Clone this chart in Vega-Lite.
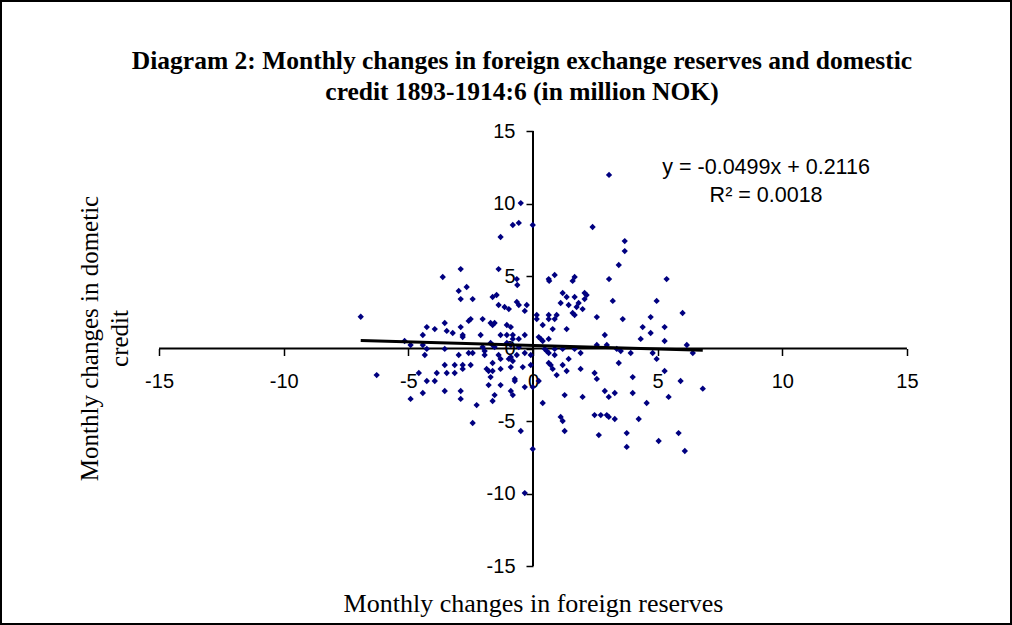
{
  "$schema": "https://vega.github.io/schema/vega-lite/v6.json",
  "width": 1010,
  "height": 623,
  "padding": {"left": 1, "top": 1, "right": 1, "bottom": 1},
  "autosize": {"type": "none"},
  "background": "white",
  "config": {"view": {"stroke": "black", "strokeWidth": 2}},
  "title": {
    "text": ["Diagram 2: Monthly changes in foreign exchange reserves and domestic", "credit 1893-1914:6 (in million NOK)"],
    "font": "Liberation Serif", "fontSize": 25.5, "fontWeight": "bold", "color": "black",
    "lineHeight": 31, "anchor": "middle", "frame": "group", "baseline": "alphabetic",
    "offset": -124, "dx": 16
  },
  "datasets": {
    "pts": [
      {"x":-6.91,"y":2.19},{"x":-0.49,"y":10.03},{"x":-0.81,"y":8.52},{"x":-0.57,"y":8.66},{"x":-0.01,"y":8.52},{"x":-1.30,"y":7.69},{"x":-3.62,"y":4.93},{"x":-2.90,"y":5.48},{"x":-1.38,"y":5.48},{"x":-0.65,"y":4.79},{"x":-0.63,"y":4.38},{"x":-2.98,"y":3.97},{"x":-2.66,"y":4.24},{"x":-2.90,"y":3.41},{"x":-2.42,"y":3.41},{"x":-1.62,"y":3.55},{"x":-1.46,"y":3.69},{"x":-4.26,"y":1.48},{"x":-3.94,"y":1.34},{"x":-4.42,"y":0.93},{"x":-5.15,"y":0.52},{"x":-4.91,"y":0.24},{"x":-4.42,"y":0.24},
      {"x":3.05,"y":11.97},{"x":2.39,"y":8.38},{"x":3.68,"y":7.41},{"x":3.68,"y":6.72},{"x":3.44,"y":5.76},{"x":3.05,"y":4.79},{"x":5.36,"y":4.79},{"x":0.63,"y":4.79},{"x":0.65,"y":4.66},{"x":0.87,"y":5.07},{"x":1.59,"y":4.66},{"x":1.67,"y":4.93},{"x":1.19,"y":3.83},{"x":1.35,"y":3.55},{"x":1.67,"y":3.55},{"x":2.07,"y":3.83},{"x":2.15,"y":3.69},{"x":2.07,"y":3.41},{"x":4.96,"y":3.28},{"x":6.00,"y":2.45},{"x":4.72,"y":2.17},{"x":4.40,"y":1.48},{"x":4.72,"y":1.07},{"x":5.28,"y":1.48},{"x":5.28,"y":0.52},{"x":4.32,"y":0.66},{"x":6.17,"y":0.24},{"x":3.60,"y":2.03},
      {"x":-6.27,"y":-1.83},{"x":-4.26,"y":-0.03},{"x":-4.34,"y":-0.45},{"x":-4.58,"y":-1.69},{"x":-4.26,"y":-2.24},{"x":-3.94,"y":-2.24},{"x":-3.86,"y":-1.69},{"x":-4.42,"y":-3.07},{"x":-4.91,"y":-3.48},{"x":-3.54,"y":-2.93},{"x":-2.90,"y":-2.93},{"x":-2.90,"y":-3.48},{"x":-1.62,"y":-3.62},{"x":-1.54,"y":-3.21},{"x":-0.89,"y":-2.93},{"x":-0.81,"y":-3.21},{"x":-2.26,"y":-3.90},{"x":-2.42,"y":-5.14},{"x":-0.49,"y":-5.69},{"x":-0.01,"y":-6.93},{"x":-0.33,"y":-9.97},
      {"x":6.41,"y":-0.31},{"x":4.80,"y":-0.31},{"x":4.96,"y":-0.72},{"x":5.28,"y":-1.55},{"x":5.92,"y":-2.24},{"x":6.81,"y":-2.77},{"x":5.44,"y":-3.34},{"x":4.00,"y":-1.97},{"x":4.00,"y":-3.07},{"x":4.56,"y":-3.76},{"x":4.24,"y":-4.86},{"x":5.84,"y":-5.83},{"x":5.04,"y":-6.38},{"x":6.09,"y":-7.07},{"x":3.76,"y":-5.83},{"x":3.76,"y":-6.79},{"x":2.64,"y":-5.97},{"x":2.47,"y":-4.59},{"x":2.72,"y":-4.59},{"x":2.96,"y":-4.59},{"x":3.04,"y":-4.72},{"x":3.28,"y":-4.86},{"x":3.92,"y":-0.31},{"x":3.52,"y":-0.17},{"x":3.28,"y":-3.07},{"x":2.88,"y":-2.93},{"x":3.04,"y":-3.34},{"x":1.99,"y":-3.34},{"x":1.27,"y":-3.21},{"x":0.39,"y":-3.76},{"x":1.11,"y":-4.72},{"x":1.19,"y":-5.00},{"x":1.27,"y":-5.69},
      {"x":-1.38,"y":3.00},{"x":-1.14,"y":2.86},{"x":-0.97,"y":2.72},{"x":-0.65,"y":3.21},{"x":-0.57,"y":3.00},{"x":-0.25,"y":3.00},{"x":-0.33,"y":2.59},{"x":1.11,"y":3.14},{"x":1.43,"y":3.00},{"x":1.75,"y":2.86},{"x":1.83,"y":3.14},{"x":1.99,"y":2.72},{"x":3.20,"y":3.28},{"x":0.15,"y":2.31},{"x":0.15,"y":2.03},{"x":0.39,"y":1.62},{"x":0.63,"y":2.31},{"x":0.63,"y":2.03},{"x":0.87,"y":2.03},{"x":0.95,"y":2.31},{"x":0.79,"y":1.34},{"x":1.35,"y":1.34},{"x":1.59,"y":2.45},{"x":1.67,"y":2.31},{"x":2.56,"y":2.17},{"x":2.88,"y":0.93},
      {"x":-3.54,"y":1.76},{"x":-3.46,"y":1.21},{"x":-3.22,"y":1.07},{"x":-2.90,"y":1.48},{"x":-2.82,"y":0.93},{"x":-2.82,"y":0.79},{"x":-2.58,"y":1.90},{"x":-2.50,"y":2.03},{"x":-2.02,"y":2.03},{"x":-1.70,"y":1.76},{"x":-1.62,"y":1.62},{"x":-1.54,"y":1.76},{"x":-1.05,"y":1.62},{"x":-0.89,"y":1.48},{"x":-1.30,"y":0.93},{"x":-1.05,"y":0.93},{"x":-0.81,"y":0.93},{"x":-2.10,"y":0.93},{"x":-0.33,"y":0.93},{"x":-0.81,"y":0.66},{"x":-0.57,"y":0.66},{"x":0.23,"y":0.79},{"x":0.63,"y":0.66},
      {"x":-3.54,"y":-0.03},{"x":-2.98,"y":-0.45},{"x":-2.58,"y":-0.31},{"x":-2.42,"y":-0.31},{"x":-2.02,"y":0.10},{"x":-1.94,"y":-0.17},{"x":-1.70,"y":0.38},{"x":-1.62,"y":0.24},{"x":-1.54,"y":0.10},{"x":-1.05,"y":0.38},{"x":-0.89,"y":0.24},{"x":-0.57,"y":0.10},{"x":-0.33,"y":-0.31},{"x":-0.09,"y":-0.45},{"x":0.31,"y":0.66},{"x":0.39,"y":0.52},{"x":0.47,"y":-0.03},{"x":0.55,"y":-0.17},{"x":0.63,"y":-0.31},{"x":0.87,"y":-0.03},{"x":1.19,"y":-0.03},{"x":1.67,"y":-0.03},{"x":1.91,"y":-0.31},{"x":1.43,"y":-0.72},{"x":2.96,"y":0.24},{"x":3.36,"y":-0.03},{"x":2.56,"y":0.24},{"x":3.44,"y":-1.00},
      {"x":-1.38,"y":-0.45},{"x":-1.30,"y":-0.72},{"x":-0.97,"y":-0.72},{"x":-0.81,"y":-0.86},{"x":-0.89,"y":-0.59},{"x":-0.65,"y":-0.45},{"x":-1.62,"y":-1.00},{"x":-1.94,"y":-0.45},{"x":-3.54,"y":-1.14},{"x":-3.14,"y":-1.14},{"x":-2.82,"y":-1.14},{"x":-3.46,"y":-1.69},{"x":-3.14,"y":-1.69},{"x":-2.82,"y":-1.41},{"x":-2.50,"y":-1.14},{"x":-1.86,"y":-1.41},{"x":-1.78,"y":-1.55},{"x":-1.62,"y":-1.55},{"x":-1.30,"y":-1.41},{"x":-1.70,"y":-1.97},{"x":-0.89,"y":-1.28},{"x":-0.73,"y":-2.10},{"x":-0.73,"y":-2.24},{"x":-0.41,"y":-1.28},{"x":-0.33,"y":-2.66},{"x":-0.09,"y":-1.14},{"x":0.23,"y":-2.24},{"x":0.63,"y":-1.00},{"x":0.71,"y":-1.14},{"x":0.79,"y":-1.41},{"x":0.95,"y":-1.83},{"x":1.19,"y":-1.14},{"x":1.35,"y":-1.55},{"x":1.91,"y":-1.41},{"x":2.47,"y":-1.69},{"x":2.56,"y":-2.10},{"x":-1.30,"y":-2.52},{"x":-1.78,"y":-2.52},{"x":-0.01,"y":-2.66},{"x":0.87,"y":-0.45}
    ],
    "axes": [
      {"x": -15, "x2": 15, "y": 0, "y2": 0},
      {"x": 0, "x2": 0, "y": -15, "y2": 15}
    ],
    "trend": [
      {"x": -6.91, "y": 0.556},
      {"x": 6.81, "y": -0.128}
    ]
  },
  "encoding": {
    "x": {
      "field": "x", "type": "quantitative",
      "scale": {"domain": [-21.34, 19.174], "nice": false, "zero": false},
      "axis": {
        "orient": "bottom", "offset": -275.5, "values": [-15, -10, -5, 0, 5, 10, 15],
        "labelExpr": "toString(datum.value)",
        "domain": false, "grid": false, "ticks": true, "tickSize": 7, "tickColor": "black", "tickWidth": 1.5,
        "labelFont": "Liberation Sans", "labelFontSize": 20, "labelColor": "black", "labelPadding": 16,
        "labelFlush": false, "labelOverlap": false,
        "title": "Monthly changes in foreign reserves", "titleFont": "Liberation Serif", "titleFontSize": 26,
        "titleFontWeight": "normal", "titleColor": "black", "titleX": 532, "titleY": 262.5,
        "titleBaseline": "alphabetic", "titleAlign": "center"
      }
    },
    "y": {
      "field": "y", "type": "quantitative",
      "scale": {"domain": [-19.0, 23.966], "nice": false, "zero": false},
      "axis": {
        "orient": "left", "offset": -532, "values": [-15, -10, -5, 0, 5, 10, 15],
        "labelExpr": "toString(datum.value)",
        "domain": false, "grid": false, "ticks": true, "tickSize": 7, "tickColor": "black", "tickWidth": 1.5,
        "labelFont": "Liberation Sans", "labelFontSize": 20, "labelColor": "black", "labelPadding": 11,
        "labelFlush": false, "labelOverlap": false,
        "title": ["Monthly changes in dometic", "credit"], "titleFont": "Liberation Serif", "titleFontSize": 25,
        "titleFontWeight": "normal", "titleColor": "black", "titleX": -436, "titleY": 337,
        "titleAngle": 270, "titleBaseline": "alphabetic", "titleAlign": "center", "titleLineHeight": 30
      }
    }
  },
  "layer": [
    {
      "data": {"name": "axes"},
      "mark": {"type": "rule", "color": "black", "strokeWidth": 2},
      "encoding": {
        "x2": {"field": "x2"},
        "y2": {"field": "y2"}
      }
    },
    {
      "data": {"name": "pts"},
      "mark": {"type": "point", "shape": "diamond", "filled": true, "size": 40, "color": "#000080", "opacity": 1}
    },
    {
      "data": {"name": "trend"},
      "mark": {"type": "line", "color": "black", "strokeWidth": 3}
    },
    {
      "data": {"values": [{"x": 9.35, "y": 12.48}]},
      "mark": {"type": "text", "font": "Liberation Sans", "fontSize": 21.5, "color": "black", "align": "center", "baseline": "middle", "lineHeight": 28, "text": ["y = -0.0499x + 0.2116", "R² = 0.0018"]}
    }
  ]
}
